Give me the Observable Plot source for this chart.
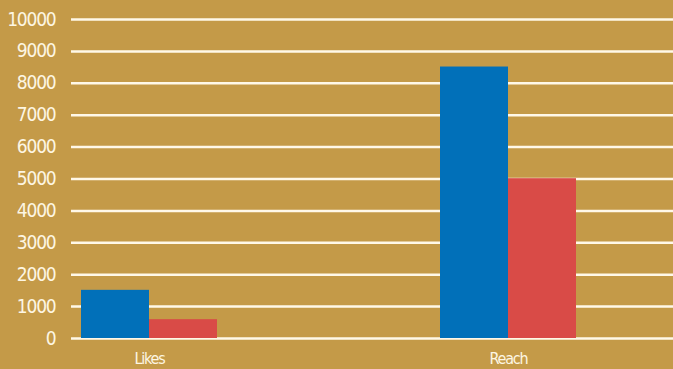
<!DOCTYPE html>
<html>
<head>
<meta charset="utf-8">
<script src="https://cdn.jsdelivr.net/npm/d3@7"></script>
<script src="https://cdn.jsdelivr.net/npm/@observablehq/plot@0.6"></script>
<style>
  html, body { margin: 0; padding: 0; background: #c49a48; }
  #chart svg { display: block; }
  #chart svg text { letter-spacing: -1.2px; }
</style>
</head>
<body>
<div id="chart"></div>
<script>
const categories = ["Likes", "Reach"];
const seriesA = [1510, 8510];   // blue
const seriesB = [590, 5010];    // red
const yTicks = [0, 1000, 2000, 3000, 4000, 5000, 6000, 7000, 8000, 9000, 10000];

const rows = categories.map((c, i) => ({category: c, a: seriesA[i], b: seriesB[i]}));

const font = "'DejaVu Sans Condensed', 'Liberation Sans Narrow', sans-serif";
const half = 68;

const chart = Plot.plot({
  width: 673,
  height: 369,
  marginLeft: 71,
  marginRight: 0,
  marginTop: 19,
  marginBottom: 31,
  style: {background: "transparent", color: "#fdf6e3", fontFamily: font},
  x: {domain: categories, range: [80, 576], paddingInner: 0.622, paddingOuter: 0, label: null},
  y: {domain: [0, 10000], label: null},
  marks: [
    Plot.ruleY(yTicks, {stroke: "#fff8e8", strokeWidth: 2.5}),
    Plot.barY(rows, {x: "category", y: "a", fill: "#0170b9", insetRight: half, insetLeft: 0}),
    Plot.barY(rows, {x: "category", y: "b", fill: "#d94b47", insetLeft: half, insetRight: 0}),
    Plot.axisY({ticks: yTicks, tickSize: 0, tickPadding: 16, fontSize: 19, fill: "#fdf6e3", label: null, tickFormat: d => String(d)}),
    Plot.axisX({tickSize: 0, tickPadding: 14, fontSize: 16, fill: "#fdf6e3", label: null})
  ]
});
document.getElementById("chart").appendChild(chart);
</script>
</body>
</html>
